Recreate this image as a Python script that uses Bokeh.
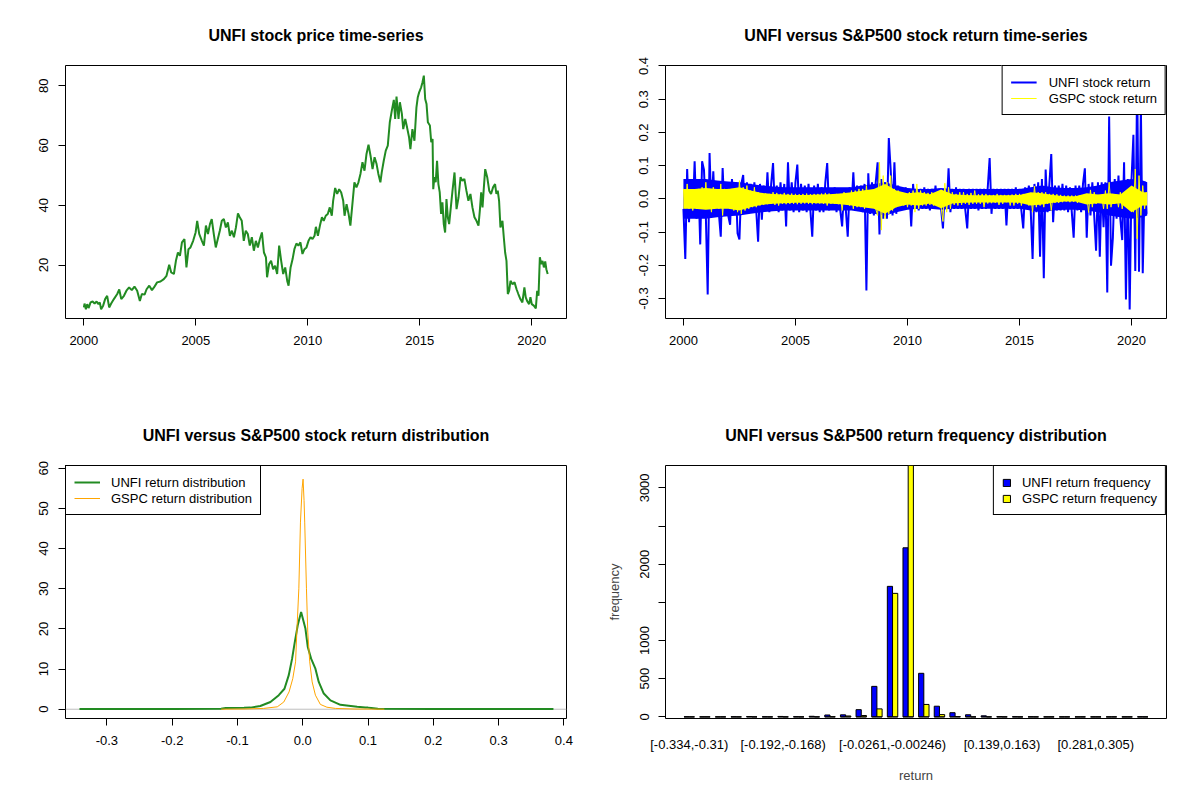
import numpy as np
from bokeh.plotting import figure
from bokeh.models import Range1d, FixedTicker
from bokeh.layouts import gridplot
from bokeh.embed import file_html
from bokeh.resources import INLINE

FONT = "Liberation Sans"

# ---------------- data ----------------
# UNFI closing price (decimal year, USD)
price_points = [
    (2000.00, 5.8), (2000.03, 7.1), (2000.09, 5.2), (2000.15, 6.9), (2000.21, 5.6), (2000.30, 7.5),
    (2000.39, 7.8), (2000.48, 7.1), (2000.57, 7.8), (2000.65, 6.9), (2000.71, 7.5), (2000.77, 5.2),
    (2000.86, 6.4), (2000.95, 8.6), (2001.04, 9.7), (2001.13, 5.8), (2001.22, 7.1), (2001.34, 8.6),
    (2001.49, 10.3), (2001.58, 11.8), (2001.67, 8.6), (2001.79, 9.7), (2001.90, 11.4), (2002.02, 12.5),
    (2002.14, 11.6), (2002.26, 12.8), (2002.38, 11.4), (2002.50, 8.0), (2002.59, 10.3), (2002.71, 10.1),
    (2002.80, 11.9), (2002.92, 13.1), (2003.04, 11.6), (2003.13, 12.5), (2003.27, 14.2), (2003.42, 14.5),
    (2003.57, 15.3), (2003.69, 16.4), (2003.81, 20.1), (2003.90, 17.5), (2004.02, 17.0), (2004.11, 21.4),
    (2004.20, 24.2), (2004.29, 23.1), (2004.38, 27.6), (2004.49, 28.7), (2004.58, 19.2), (2004.67, 25.3),
    (2004.76, 25.9), (2004.88, 28.1), (2004.99, 30.9), (2005.06, 34.8), (2005.15, 30.4), (2005.27, 28.1),
    (2005.36, 26.5), (2005.45, 33.2), (2005.54, 30.4), (2005.63, 33.7), (2005.71, 35.4), (2005.80, 30.4),
    (2005.89, 25.9), (2005.98, 28.7), (2006.07, 31.5), (2006.16, 34.8), (2006.25, 35.4), (2006.34, 32.6),
    (2006.43, 34.3), (2006.52, 29.8), (2006.61, 31.5), (2006.70, 29.3), (2006.79, 32.6), (2006.88, 37.3),
    (2006.96, 36.0), (2007.05, 34.8), (2007.14, 28.1), (2007.23, 31.5), (2007.32, 30.4), (2007.41, 26.5),
    (2007.50, 29.3), (2007.59, 24.8), (2007.68, 28.1), (2007.77, 25.9), (2007.86, 28.7), (2007.95, 30.9),
    (2008.04, 24.2), (2008.13, 22.6), (2008.18, 15.9), (2008.27, 20.3), (2008.36, 21.4), (2008.45, 18.6),
    (2008.54, 19.8), (2008.63, 17.0), (2008.72, 26.5), (2008.81, 21.4), (2008.90, 17.0), (2008.99, 19.2),
    (2009.08, 14.7), (2009.14, 13.1), (2009.23, 19.2), (2009.32, 22.0), (2009.40, 25.3), (2009.49, 27.2),
    (2009.58, 26.5), (2009.67, 27.6), (2009.76, 23.7), (2009.85, 25.3), (2009.94, 25.9), (2010.03, 28.1),
    (2010.12, 29.3), (2010.21, 28.7), (2010.30, 29.8), (2010.36, 32.8), (2010.45, 29.8), (2010.54, 33.2),
    (2010.63, 36.0), (2010.71, 34.8), (2010.80, 36.5), (2010.89, 37.1), (2010.98, 39.3), (2011.07, 36.5),
    (2011.13, 41.5), (2011.22, 45.8), (2011.31, 43.8), (2011.40, 45.4), (2011.49, 44.3), (2011.58, 41.5),
    (2011.64, 36.5), (2011.73, 40.4), (2011.82, 37.1), (2011.90, 33.2), (2011.99, 40.4), (2012.08, 47.7),
    (2012.17, 46.0), (2012.26, 47.7), (2012.35, 50.5), (2012.44, 54.4), (2012.53, 51.6), (2012.62, 57.2),
    (2012.71, 60.3), (2012.80, 56.6), (2012.89, 52.1), (2012.98, 56.1), (2013.07, 53.8), (2013.15, 50.5),
    (2013.24, 47.7), (2013.30, 51.0), (2013.39, 54.9), (2013.48, 58.3), (2013.57, 60.0), (2013.66, 67.8),
    (2013.75, 71.7), (2013.84, 75.3), (2013.90, 68.9), (2013.96, 76.4), (2014.05, 68.9), (2014.11, 74.5),
    (2014.20, 70.6), (2014.26, 65.5), (2014.35, 68.9), (2014.43, 66.1), (2014.52, 62.8), (2014.58, 58.8),
    (2014.67, 65.5), (2014.76, 61.6), (2014.85, 72.8), (2014.91, 76.2), (2014.97, 77.8), (2015.06, 79.5),
    (2015.12, 81.2), (2015.18, 83.4), (2015.24, 75.6), (2015.30, 73.9), (2015.36, 67.8), (2015.45, 66.7),
    (2015.51, 61.1), (2015.57, 62.2), (2015.60, 45.4), (2015.65, 49.4), (2015.71, 47.7), (2015.77, 54.9),
    (2015.83, 47.1), (2015.89, 44.3), (2015.95, 37.1), (2016.01, 41.0), (2016.07, 33.7), (2016.13, 30.9),
    (2016.19, 42.1), (2016.25, 36.0), (2016.31, 33.7), (2016.37, 38.2), (2016.46, 44.9), (2016.55, 51.0),
    (2016.64, 38.7), (2016.73, 42.7), (2016.82, 49.4), (2016.90, 48.2), (2016.99, 48.8), (2017.08, 44.9),
    (2017.17, 41.5), (2017.26, 43.8), (2017.35, 39.3), (2017.44, 36.0), (2017.53, 34.8), (2017.62, 33.2),
    (2017.68, 38.2), (2017.74, 44.3), (2017.80, 39.3), (2017.86, 46.0), (2017.92, 52.1), (2018.01, 49.4),
    (2018.10, 44.9), (2018.18, 43.8), (2018.27, 46.0), (2018.36, 47.1), (2018.42, 43.8), (2018.48, 44.9),
    (2018.54, 41.5), (2018.60, 32.6), (2018.69, 34.8), (2018.75, 29.3), (2018.81, 24.2), (2018.87, 21.4),
    (2018.93, 10.3), (2018.99, 11.4), (2019.05, 14.7), (2019.14, 13.6), (2019.23, 14.2), (2019.32, 11.9),
    (2019.40, 10.3), (2019.49, 8.6), (2019.58, 7.5), (2019.67, 12.5), (2019.73, 9.2), (2019.79, 8.0),
    (2019.88, 6.9), (2019.94, 9.2), (2020.00, 6.9), (2020.09, 6.4), (2020.18, 5.5), (2020.24, 11.4),
    (2020.30, 9.7), (2020.36, 22.6), (2020.42, 20.3), (2020.48, 21.4), (2020.54, 19.2), (2020.60, 21.2),
    (2020.65, 18.6), (2020.71, 17.0),
]
price_year = [a for a, b in price_points]
price_val = [b for a, b in price_points]

# monthly-sampled extreme daily returns, Jan 2000 .. Sep 2020
ret_first_year = 2000.0
unfi_ret = [
    -0.03, -0.181, 0.09, -0.07, 0.06, -0.05, 0.113, -0.06, 0.055, -0.137, 0.113, 0.088,
    -0.05, -0.288, 0.138, -0.04, 0.083, -0.05, 0.05, -0.045, -0.114, 0.093, -0.04, 0.05,
    -0.05, -0.078, 0.06, -0.04, 0.05, -0.104, -0.122, 0.045, 0.072, -0.04, 0.05, -0.035,
    0.045, -0.04, 0.05, -0.035, -0.129, 0.045, -0.063, 0.04, -0.035, 0.08, -0.04, 0.045,
    0.108, -0.035, 0.04, -0.04, 0.05, -0.035, 0.045, -0.083, 0.11, -0.035, 0.05, -0.04,
    0.05, 0.103, -0.04, 0.045, -0.035, 0.04, -0.04, 0.045, -0.035, -0.114, 0.04, -0.035,
    0.045, -0.04, 0.035, -0.04, 0.05, 0.108, -0.035, 0.03, -0.03, 0.035, -0.04, 0.03,
    -0.035, -0.083, 0.03, -0.035, -0.114, 0.035, -0.03, 0.08, -0.035, 0.04, -0.035, 0.04,
    -0.04, 0.045, -0.276, 0.077, -0.045, 0.05, -0.05, 0.05, 0.11, -0.107, 0.06, -0.06,
    0.05, -0.06, 0.183, 0.088, -0.05, 0.11, -0.045, 0.04, -0.035, 0.035, -0.03, 0.035,
    -0.03, 0.03, -0.083, 0.045, -0.03, 0.03, -0.035, 0.03, -0.03, 0.035, -0.03, 0.03,
    -0.035, 0.03, -0.03, 0.04, -0.03, 0.03, -0.03, -0.089, 0.03, -0.03, 0.092, -0.04,
    0.03, -0.03, 0.035, -0.03, 0.03, -0.03, 0.03, -0.035, -0.089, 0.03, -0.03, 0.03,
    -0.03, 0.03, -0.035, 0.03, -0.03, 0.03, -0.03, 0.035, 0.123, -0.045, 0.03, -0.03,
    0.03, -0.03, 0.03, -0.03, 0.03, -0.08, 0.03, -0.03, 0.03, -0.03, 0.035, -0.03,
    0.03, -0.035, -0.089, 0.035, -0.03, 0.04, -0.035, -0.181, 0.045, -0.04, 0.05, -0.174,
    0.06, -0.239, 0.088, -0.04, 0.045, 0.135, -0.07, 0.04, -0.035, 0.04, -0.035, 0.045,
    -0.035, 0.04, -0.04, 0.035, -0.04, -0.117, 0.04, -0.035, 0.04, -0.04, 0.045, 0.092,
    -0.117, 0.045, -0.05, 0.05, -0.05, -0.156, 0.05, -0.174, 0.05, -0.085, 0.05, -0.282,
    0.248, -0.201, -0.117, 0.06, -0.06, 0.07, -0.06, -0.124, 0.11, -0.303, 0.06, -0.333,
    0.06, 0.193, -0.217, 0.37, -0.219, 0.28, -0.224, 0.052, -0.045,
]
gspc_ret = [
    0.03, -0.028, 0.045, -0.03, 0.028, -0.035, 0.025, -0.03, 0.03, -0.028, 0.035, -0.03,
    0.05, -0.03, 0.03, -0.04, 0.035, -0.025, 0.025, -0.03, 0.045, -0.05, 0.03, -0.025,
    0.03, -0.03, 0.03, -0.035, 0.03, -0.04, 0.055, -0.045, 0.035, -0.035, 0.04, -0.03,
    0.025, -0.025, 0.035, -0.025, 0.02, -0.02, 0.018, -0.018, 0.016, -0.016, 0.015, -0.015,
    0.02, -0.018, 0.018, -0.02, 0.015, -0.015, 0.018, -0.016, 0.015, -0.015, 0.016, -0.015,
    0.015, -0.016, 0.014, -0.015, 0.015, -0.014, 0.016, -0.015, 0.014, -0.016, 0.015, -0.014,
    0.015, -0.014, 0.016, -0.015, 0.018, -0.02, 0.016, -0.015, 0.014, -0.015, 0.015, -0.016,
    0.015, -0.035, 0.02, -0.015, 0.015, -0.02, 0.025, -0.03, 0.025, -0.025, 0.03, -0.025,
    0.03, -0.03, 0.04, -0.025, 0.02, -0.025, 0.025, -0.03, -0.05, 0.11, -0.094, 0.07,
    -0.06, 0.05, -0.045, 0.07, -0.035, 0.03, -0.025, 0.025, -0.02, 0.02, -0.02, 0.015,
    -0.025, 0.02, -0.02, 0.025, -0.04, 0.045, -0.03, 0.025, -0.02, 0.02, -0.02, 0.018,
    -0.018, 0.02, -0.02, 0.018, -0.02, 0.02, -0.025, -0.068, 0.047, -0.04, 0.035, -0.03,
    0.02, -0.018, 0.015, -0.02, 0.02, -0.018, 0.02, -0.015, 0.015, -0.018, 0.018, -0.015,
    0.025, -0.015, 0.014, -0.015, 0.015, -0.025, 0.015, -0.014, 0.012, -0.013, 0.012, -0.012,
    0.015, -0.018, 0.012, -0.015, 0.012, -0.01, 0.012, -0.02, 0.013, -0.02, 0.015, -0.015,
    0.015, -0.02, 0.015, -0.012, 0.012, -0.02, 0.015, -0.04, 0.038, -0.025, 0.02, -0.02,
    0.02, -0.025, 0.02, -0.015, 0.015, -0.035, 0.015, -0.012, 0.014, -0.012, 0.012, -0.01,
    0.01, -0.008, 0.01, -0.01, 0.01, -0.009, 0.01, -0.012, 0.01, -0.008, 0.01, -0.009,
    0.012, -0.041, 0.027, -0.025, 0.02, -0.015, 0.012, -0.01, 0.01, -0.03, 0.025, -0.03,
    0.05, -0.025, 0.015, -0.015, 0.012, -0.025, 0.02, -0.03, 0.015, -0.015, 0.012, -0.01,
    0.012, -0.04, 0.09, -0.12, 0.07, -0.05, 0.04, -0.03, 0.02,
]
ret_year = [ret_first_year + i / 12.0 for i in range(len(unfi_ret))]

# half-yearly width of the dense band of ordinary daily returns (+/- amplitude)
band_year = [2000.0 + 0.5 * k for k in range(42)] + [2020.7]
unfi_band = [0.06, 0.06, 0.06, 0.055, 0.052, 0.05, 0.045, 0.04, 0.037, 0.035, 0.035, 0.035,
             0.035, 0.035, 0.035, 0.035, 0.04, 0.045, 0.05, 0.04, 0.033, 0.03, 0.03, 0.033,
             0.03, 0.03, 0.03, 0.03, 0.03, 0.03, 0.03, 0.035, 0.04, 0.035, 0.033, 0.033,
             0.035, 0.04, 0.05, 0.055, 0.06, 0.055, 0.05]
gspc_band = [0.03, 0.03, 0.033, 0.03, 0.03, 0.035, 0.025, 0.018, 0.015, 0.013, 0.012, 0.012,
             0.013, 0.014, 0.016, 0.02, 0.025, 0.03, 0.045, 0.025, 0.017, 0.02, 0.014, 0.028,
             0.014, 0.012, 0.011, 0.011, 0.011, 0.011, 0.012, 0.02, 0.017, 0.012, 0.008, 0.008,
             0.017, 0.013, 0.017, 0.013, 0.04, 0.02, 0.02]

# kernel density estimates (return, density)
unfi_density = [
    (-0.342, 0.05), (-0.2, 0.05), (-0.125, 0.1), (-0.118, 0.3), (-0.09, 0.35), (-0.08, 0.4),
    (-0.065, 0.8), (-0.0495, 1.8), (-0.0367, 3.5), (-0.028, 5.1), (-0.0214, 8.5), (-0.0163, 12.6),
    (-0.0122, 16.7), (-0.0077, 20.9), (-0.0025, 24.2), (0.0041, 20.1), (0.0077, 15.5),
    (0.0128, 12.6), (0.0194, 10.1), (0.0245, 6.8), (0.0322, 3.9), (0.0424, 2.2), (0.0577, 1.1),
    (0.0833, 0.6), (0.096, 0.4), (0.1, 0.4), (0.105, 0.3), (0.115, 0.1), (0.2, 0.05), (0.384, 0.05),
]
gspc_density = [
    (-0.125, 0.02), (-0.09, 0.05), (-0.06, 0.2), (-0.039, 0.6), (-0.029, 1.8), (-0.021, 4.3),
    (-0.0153, 7.6), (-0.011, 11.8), (-0.0086, 20.9), (-0.006, 30.0), (-0.0035, 46.6),
    (-0.001, 55.0), (0.0005, 57.3), (0.002, 52.0), (0.003, 46.6), (0.0057, 30.0), (0.0077, 19.2),
    (0.0107, 11.8), (0.0144, 6.8), (0.0194, 3.5), (0.027, 1.2), (0.037, 0.5), (0.05, 0.2),
    (0.08, 0.05), (0.125, 0.02),
]

# histogram of returns
bin_labels = [
    "[-0.334,-0.31)", "[-0.31,-0.287)", "[-0.287,-0.263)", "[-0.263,-0.239)", "[-0.239,-0.216)",
    "[-0.216,-0.192)", "[-0.192,-0.168)", "[-0.168,-0.145)", "[-0.145,-0.121)", "[-0.121,-0.0972)",
    "[-0.0972,-0.0735)", "[-0.0735,-0.0498)", "[-0.0498,-0.0261)", "[-0.0261,-0.00246)",
    "[-0.00246,0.0212)", "[0.0212,0.0449)", "[0.0449,0.0685)", "[0.0685,0.0922)", "[0.0922,0.116)",
    "[0.116,0.139)", "[0.139,0.163)", "[0.163,0.186)", "[0.186,0.21)", "[0.21,0.234)",
    "[0.234,0.257)", "[0.257,0.281)", "[0.281,0.305)", "[0.305,0.328)", "[0.328,0.352)",
    "[0.352,0.376)",
]
shown_bins = [0, 6, 13, 20, 26]
unfi_freq = [1, 0, 0, 1, 5, 1, 6, 2, 8, 25, 27, 95, 400, 1710, 2215, 571, 140, 55, 28, 14,
             3, 2, 1, 0, 0, 0, 0, 0, 0, 1]
gspc_freq = [0, 0, 0, 0, 0, 0, 0, 0, 0, 2, 12, 18, 105, 1618, 3320, 163, 30, 4, 0, 0,
             0, 0, 0, 0, 0, 0, 0, 0, 0, 0]

# ---------------- helpers ----------------
def make_fig(xr, yr, title):
    p = figure(width=600, height=400, x_range=Range1d(*xr), y_range=Range1d(*yr),
               output_backend="svg", toolbar_location=None, title=title,
               min_border_left=65, min_border_right=34,
               min_border_top=65, min_border_bottom=82)
    p.title.align = "center"
    p.title.text_font = FONT
    p.title.text_font_size = "16px"
    p.title.text_font_style = "bold"
    p.title.text_color = "black"
    p.title.standoff = 43
    p.xgrid.visible = False
    p.ygrid.visible = False
    p.outline_line_color = "black"
    p.outline_line_width = 1
    p.outline_line_alpha = 1
    p.background_fill_color = "white"
    p.border_fill_color = "white"
    for ax in p.axis:
        ax.axis_line_color = None
        ax.major_tick_out = 7
        ax.major_tick_in = 0
        ax.minor_tick_out = 0
        ax.minor_tick_in = 0
        ax.major_tick_line_color = "black"
        ax.major_label_text_font = FONT
        ax.major_label_text_font_size = "13px"
        ax.major_label_text_color = "black"
        ax.major_label_standoff = 10
    p.yaxis.major_label_orientation = "vertical"
    return p


def set_ticks(axis, ticks, labels):
    axis.ticker = FixedTicker(ticks=ticks)
    axis.major_label_overrides = {t: l for t, l in zip(ticks, labels)}


def style_legend(leg, loc, glyph_w, glyph_h, standoff):
    leg.location = loc
    leg.margin = 0
    leg.padding = 8
    leg.spacing = 0
    leg.label_height = 16
    leg.glyph_height = glyph_h
    leg.glyph_width = glyph_w
    leg.label_standoff = standoff
    leg.border_line_color = "black"
    leg.border_line_width = 1
    leg.border_line_alpha = 1
    leg.background_fill_color = "white"
    leg.background_fill_alpha = 1
    leg.label_text_font = FONT
    leg.label_text_font_size = "13px"
    leg.label_text_color = "black"


year_ticks = [2000, 2005, 2010, 2015, 2020]
year_labels = ["2000", "2005", "2010", "2015", "2020"]

# ---------------- panel 1: price ----------------
p1 = make_fig((1999.18, 2021.55), (2.1, 86.8), "UNFI stock price time-series")
p1.line(price_year, price_val, line_color="#228B22", line_width=2)
set_ticks(p1.xaxis[0], year_ticks, year_labels)
set_ticks(p1.yaxis[0], [20, 40, 60, 80], ["20", "40", "60", "80"])

# ---------------- panel 2: returns ----------------
p2 = make_fig((1999.20, 2021.56), (-0.360, 0.4014), "UNFI versus S&P500 stock return time-series")
p2.varea(x=band_year, y1=[-a for a in unfi_band], y2=unfi_band, fill_color="#0000FF")
p2.line(ret_year, unfi_ret, line_color="#0000FF", line_width=2, legend_label="UNFI stock return")
p2.varea(x=band_year, y1=[-a for a in gspc_band], y2=gspc_band, fill_color="#FFFF00")
p2.line(ret_year, gspc_ret, line_color="#FFFF00", line_width=1, legend_label="GSPC stock return")
set_ticks(p2.xaxis[0], year_ticks, year_labels)
rt = [-0.3, -0.2, -0.1, 0.0, 0.1, 0.2, 0.3, 0.4]
set_ticks(p2.yaxis[0], rt, ["-0.3", "-0.2", "-0.1", "0.0", "0.1", "0.2", "0.3", "0.4"])
style_legend(p2.legend[0], "top_right", 26, 16, 12)

# ---------------- panel 3: density ----------------
p3 = make_fig((-0.3634, 0.404), (-2.31, 60.7), "UNFI versus S&P500 stock return distribution")
p3.line([-0.3634, 0.404], [0, 0], line_color="#BEBEBE", line_width=1)
p3.line([a for a, b in unfi_density], [b for a, b in unfi_density], line_color="#228B22",
        line_width=2, legend_label="UNFI return distribution")
p3.line([a for a, b in gspc_density], [b for a, b in gspc_density], line_color="#FFA500",
        line_width=1, legend_label="GSPC return distribution")
dt = [-0.3, -0.2, -0.1, 0.0, 0.1, 0.2, 0.3, 0.4]
set_ticks(p3.xaxis[0], dt, ["-0.3", "-0.2", "-0.1", "0.0", "0.1", "0.2", "0.3", "0.4"])
set_ticks(p3.yaxis[0], [0, 10, 20, 30, 40, 50, 60], ["0", "10", "20", "30", "40", "50", "60"])
style_legend(p3.legend[0], "top_left", 26, 16, 11)

# ---------------- panel 4: histogram ----------------
p4 = make_fig((-2.56, 93.56), (-21, 3293), "UNFI versus S&P500 return frequency distribution")
n_bins = len(bin_labels)
x_unfi = [1.5 + 3 * i for i in range(n_bins)]
x_gspc = [2.5 + 3 * i for i in range(n_bins)]
p4.vbar(x=x_unfi, top=unfi_freq, bottom=0, width=1, fill_color="#0000FF", line_color="black",
        line_width=1, legend_label="UNFI return frequency")
p4.vbar(x=x_gspc, top=gspc_freq, bottom=0, width=1, fill_color="#FFFF00", line_color="black",
        line_width=1, legend_label="GSPC return frequency")
all_x = x_unfi + x_gspc
p4.segment(x0=[x - 0.5 for x in all_x], y0=[0] * len(all_x), x1=[x + 0.5 for x in all_x],
           y1=[0] * len(all_x), line_color="black", line_width=1)
xa = p4.xaxis[0]
set_ticks(xa, [2 + 3 * i for i in shown_bins], [bin_labels[i] for i in shown_bins])
xa.major_tick_out = 0
xa.major_tick_line_color = None
xa.major_label_standoff = 18
xa.axis_label = "return"
xa.axis_label_text_font = FONT
xa.axis_label_text_font_size = "13px"
xa.axis_label_text_font_style = "normal"
xa.axis_label_standoff = 13
ya = p4.yaxis[0]
ft = [0, 500, 1000, 1500, 2000, 2500, 3000]
set_ticks(ya, ft, ["0", "500", "1000", "", "2000", "", "3000"])
ya.major_label_standoff = 9
ya.axis_label = "frequency"
ya.axis_label_text_font = FONT
ya.axis_label_text_font_size = "13px"
ya.axis_label_text_font_style = "normal"
ya.axis_label_standoff = 16
style_legend(p4.legend[0], "top_right", 9, 9, 11)

grid = gridplot([[p1, p2], [p3, p4]], toolbar_location=None)
open("out.html", "w").write(file_html(grid, INLINE))
